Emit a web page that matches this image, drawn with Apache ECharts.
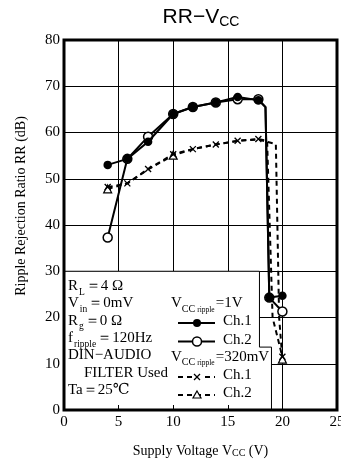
<!DOCTYPE html>
<html>
<head>
<meta charset="utf-8">
<script src="https://cdn.jsdelivr.net/npm/echarts@6/dist/echarts.min.js"></script>
<style>html,body{margin:0;padding:0;background:#fff}#c{width:341px;height:466px}</style>
</head>
<body>
<div id="c"></div>
<script>
// ---- data ----
const xTicks = [0, 5, 10, 15, 20, 25];
const yTicks = [0, 10, 20, 30, 40, 50, 60, 70, 80];

// Vcc ripple = 1V, Ch.1 (filled circles)
const ch1_1V_x = [4, 5.8, 7.7, 10, 11.8, 13.9, 15.9, 17.8, 18.45, 18.8, 20];
const ch1_1V_y = [53, 54.3, 58, 64, 65.5, 66.5, 67.7, 67, 65.5, 24.3, 24.7];
const ch1_1V_curveOnly = [8];
// Vcc ripple = 1V, Ch.2 (open circles)
const ch2_1V_x = [4, 5.8, 7.7, 10, 11.8, 13.9, 15.9, 17.8, 18.45, 18.8, 20];
const ch2_1V_y = [37.3, 54.3, 59.1, 64, 65.5, 66.5, 67.2, 67.2, 65.5, 24.3, 21.3];
const ch2_1V_curveOnly = [8];
// Vcc ripple = 320mV, Ch.1 (crosses)
const ch1_320_x = [4, 5.8, 7.7, 10, 11.8, 13.9, 15.9, 17.8, 18.6, 19.1, 20];
const ch1_320_y = [48.2, 49, 52.1, 55.3, 56.4, 57.4, 58.2, 58.6, 58.2, 20, 11.5];
const ch1_320_curveOnly = [8, 9];
// Vcc ripple = 320mV, Ch.2 (triangles)
const ch2_320_x = [4, 5.8, 7.7, 10, 11.8, 13.9, 15.9, 17.8, 19.4, 19.7, 20];
const ch2_320_y = [47.8, 49, 52, 55.1, 56.4, 57.4, 58.2, 58.5, 57.5, 20, 11];
const ch2_320_hidden = [1, 2, 4, 5, 6, 7, 8, 9];

// legend box outline (data coords)
const legendBox = [[0, 30], [17.9, 30], [17.9, 13.6], [19, 13.6], [19, 0], [0, 0]];

function build(xs, ys, hide) {
  return xs.map((x, i) => hide.indexOf(i) >= 0 ? {value: [x, ys[i]], symbol: 'none'} : [x, ys[i]]);
}

const SERIF = "'Liberation Serif','DejaVu Serif',serif";
const SANS = "'Liberation Sans',Arial,sans-serif";
const chart = echarts.init(document.getElementById('c'), null, {renderer: 'canvas'});

const main = {fontFamily: SERIF, fontSize: 15, color: '#000', verticalAlign: 'bottom', padding: [0, 0, 3, 0]};
const sub = {fontFamily: SERIF, fontSize: 9.5, color: '#000', verticalAlign: 'bottom', padding: [0, 1, 0, 1]};
const subC = {fontFamily: SERIF, fontSize: 10, color: '#000', verticalAlign: 'bottom', padding: [0, 2, 0, 0]};
const subR = {fontFamily: SERIF, fontSize: 7.5, color: '#000', verticalAlign: 'bottom', padding: [0, 1, 0, 0]};

function txt(x, y, text, align) {
  return {
    type: 'text', x: x, y: y, z: 20, silent: true,
    style: {text: text, textAlign: align || 'left', textVerticalAlign: 'middle', rich: {m: main, s: sub, c: subC, r: subR}, fill: '#000'}
  };
}
function seg(x1, y1, x2, y2, w, dash, z) {
  const st = {stroke: '#000', lineWidth: w};
  if (dash) st.lineDash = dash;
  return {type: 'line', z: z || 20, silent: true, shape: {x1: x1, y1: y1, x2: x2, y2: y2}, style: st};
}

const LX = 68, RX = 171, SX0 = 178, SX1 = 215, MX = 197, CX = 223;
const graphics = [
  {type: 'text', x: 201, y: 18, z: 20, silent: true,
   style: {text: '{a|RR−V}{b|CC}', textAlign: 'center', textVerticalAlign: 'middle',
     rich: {a: {fontFamily: SANS, fontSize: 21, color: '#000', verticalAlign: 'bottom', padding: [0, 0, 2, 0]},
            b: {fontFamily: SANS, fontSize: 14, color: '#000', verticalAlign: 'bottom'}}}},
  txt(LX, 288, '{m|R}{s|L}{m|＝4 Ω}'),
  txt(LX, 305, '{m|V}{s|in}{m|＝0mV}'),
  txt(LX, 322.5, '{m|R}{s|g}{m|＝0 Ω}'),
  txt(LX, 340, '{m|f}{s|ripple}{m|＝120Hz}'),
  txt(LX, 357, '{m|DIN−AUDIO}'),
  txt(LX + 16, 374.5, '{m|FILTER Used}'),
  txt(LX, 392, '{m|Ta＝25℃}'),
  txt(RX, 305, '{m|V}{c|CC}{r|ripple}{m|=1V}'),
  txt(RX, 358.5, '{m|V}{c|CC}{r|ripple}{m|=320mV}'),
  txt(CX, 323, '{m|Ch.1}'),
  txt(CX, 341.5, '{m|Ch.2}'),
  txt(CX, 377, '{m|Ch.1}'),
  txt(CX, 395, '{m|Ch.2}'),
  seg(SX0, 323, SX1, 323, 2),
  {type: 'circle', z: 21, silent: true, shape: {cx: MX, cy: 323, r: 4}, style: {fill: '#000'}},
  seg(SX0, 341.5, SX1, 341.5, 2),
  {type: 'circle', z: 21, silent: true, shape: {cx: MX, cy: 341.5, r: 4.5}, style: {fill: '#fff', stroke: '#000', lineWidth: 1.5}},
  seg(SX0, 377, SX1, 377, 2, [5, 4]),
  {type: 'rect', z: 21, silent: true, shape: {x: MX - 4, y: 373, width: 8, height: 8}, style: {fill: '#fff'}},
  seg(MX - 3, 374, MX + 3, 380, 1.3, null, 22),
  seg(MX + 3, 374, MX - 3, 380, 1.3, null, 22),
  seg(SX0, 395, SX1, 395, 2, [5, 4]),
  {type: 'polygon', z: 21, silent: true, shape: {points: [[MX, 391], [MX + 4, 398], [MX - 4, 398]]}, style: {fill: '#fff', stroke: '#000', lineWidth: 1.2}}
];

const option = {
  animation: false,
  backgroundColor: '#fff',
  grid: {left: 64, right: 4, top: 40, bottom: 56, outerBoundsMode: 'none', containLabel: false,
    show: true, borderColor: '#000', borderWidth: 3, z: 10, backgroundColor: 'transparent'},
  xAxis: [{
    type: 'value', min: xTicks[0], max: xTicks[xTicks.length - 1], interval: 5,
    axisLine: {show: false},
    axisTick: {show: false},
    splitLine: {show: true, lineStyle: {color: '#000', width: 1}},
    axisLabel: {fontFamily: SERIF, fontSize: 15, color: '#000', margin: 5},
    name: 'Supply Voltage V{s|CC} (V)', nameLocation: 'middle', nameGap: 34,
    nameTextStyle: {fontFamily: SERIF, fontSize: 14, color: '#000', verticalAlign: 'top',
      rich: {s: {fontFamily: SERIF, fontSize: 10, color: '#000', verticalAlign: 'bottom'}}}
  }, {
    type: 'value', position: 'bottom', z: 5, min: xTicks[0], max: xTicks[xTicks.length - 1], interval: 5,
    axisLine: {show: false},
    axisTick: {show: true, inside: true, length: 5, lineStyle: {color: '#000', width: 1}},
    splitLine: {show: false},
    axisLabel: {show: false}
  }],
  yAxis: {
    type: 'value', min: yTicks[0], max: yTicks[yTicks.length - 1], interval: 10,
    axisLine: {show: false},
    axisTick: {show: false},
    splitLine: {show: true, lineStyle: {color: '#000', width: 1}},
    axisLabel: {fontFamily: SERIF, fontSize: 15, color: '#000', margin: 4},
    name: 'Ripple Rejection Ratio RR (dB)', nameLocation: 'middle', nameGap: 36,
    nameTextStyle: {fontFamily: SERIF, fontSize: 14, color: '#000', padding: [0, 0, 0, 38]}
  },
  graphic: graphics,
  series: [
    {
      type: 'custom', z: 1, silent: true, clip: false,
      data: [[0, 0]],
      renderItem: function (params, api) {
        const pts = legendBox.map(p => api.coord(p));
        return {type: 'polygon', shape: {points: pts}, style: {fill: '#fff', stroke: '#000', lineWidth: 1}};
      }
    },
    {
      name: '320mV Ch.2', type: 'line', z: 3, showAllSymbol: true,
      data: build(ch2_320_x, ch2_320_y, ch2_320_hidden),
      symbol: 'triangle', symbolSize: 8,
      itemStyle: {color: '#fff', borderColor: '#000', borderWidth: 1.2},
      lineStyle: {color: '#000', width: 2, type: [5, 4]}
    },
    {
      name: '320mV Ch.1', type: 'line', z: 4, showAllSymbol: true,
      data: build(ch1_320_x, ch1_320_y, ch1_320_curveOnly),
      symbol: 'path://M0,0L10,10M10,0L0,10', symbolSize: 6,
      itemStyle: {color: '#000', borderColor: '#000', borderWidth: 1.3},
      lineStyle: {color: '#000', width: 2, type: [5, 4]}
    },
    {
      name: '1V Ch.2', type: 'line', z: 5, showAllSymbol: true,
      data: build(ch2_1V_x, ch2_1V_y, ch2_1V_curveOnly),
      symbol: 'circle', symbolSize: 9,
      itemStyle: {color: '#fff', borderColor: '#000', borderWidth: 1.5},
      lineStyle: {color: '#000', width: 2}
    },
    {
      name: '1V Ch.1', type: 'line', z: 6, showAllSymbol: true,
      data: build(ch1_1V_x, ch1_1V_y, ch1_1V_curveOnly),
      symbol: 'circle', symbolSize: 8.5,
      itemStyle: {color: '#000', borderColor: '#000', borderWidth: 0},
      lineStyle: {color: '#000', width: 2}
    }
  ]
};
chart.setOption(option);
</script>
</body>
</html>
